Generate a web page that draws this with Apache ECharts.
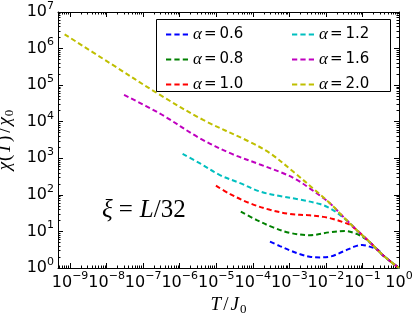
<!DOCTYPE html>
<html>
<head>
<meta charset="utf-8">
<script src="https://cdn.jsdelivr.net/npm/echarts@6/dist/echarts.min.js"></script>
<style>html,body{margin:0;padding:0;background:#fff}#c{width:416px;height:317px}</style>
</head>
<body>
<div id="c"></div>
<script>
// ---- data ----
var T_06   = [2.95e-4, 5.5e-4, 1.05e-3, 1.95e-3, 3.6e-3, 6.9e-3, 1.29e-2, 2.95e-2, 6.3e-2, 9.8e-2, 0.141, 0.27, 0.37, 1];
var CHI_06 = [5.25, 3.98, 3.02, 2.40, 2.04, 1.95, 2.04, 2.82, 3.89, 4.27, 3.98, 3.09, 2.2, 1];

var T_08   = [4.7e-5, 1.29e-4, 3.6e-4, 1.05e-3, 3.6e-3, 1.29e-2, 3.3e-2, 6.3e-2, 0.105, 0.162, 0.37, 1];
var CHI_08 = [34.7, 20.4, 12.9, 9.1, 7.9, 9.5, 10.2, 8.9, 6.9, 5.0, 2.2, 1];

var T_10   = [9.8e-6, 2.4e-5, 8.3e-5, 2.95e-4, 1.05e-3, 3.6e-3, 8.5e-3, 1.58e-2, 3.0e-2, 4.6e-2, 6.9e-2, 0.162, 0.37, 1];
var CHI_10 = [178, 105, 59, 39, 30, 27.5, 25, 21.9, 17.8, 15.1, 11, 5.0, 2.2, 1];

var T_12   = [1.2e-6, 3.6e-6, 1.26e-5, 4.5e-5, 1.58e-4, 5.5e-4, 1.95e-3, 6.9e-3, 1.29e-2, 2.45e-2, 4.6e-2, 6.9e-2, 0.162, 0.37, 1];
var CHI_12 = [1320, 724, 347, 209, 123, 93, 74, 56, 43, 28, 16.6, 11, 5.0, 2.2, 1];

var T_16   = [3.0e-8, 2.9e-7, 3.6e-6, 2.4e-5, 1.58e-4, 6.8e-4, 1.62e-3, 3.6e-3, 8.3e-3, 1.29e-2, 3.0e-2, 6.9e-2, 0.162, 0.37, 1];
var CHI_16 = [5.4e4, 1.66e4, 3.5e3, 1.38e3, 676, 389, 257, 151, 83, 59, 25, 11, 5.0, 2.2, 1];

var T_20   = [7.1e-10, 1.23e-8, 2.9e-7, 4.4e-6, 8.3e-5, 2.95e-4, 1.29e-3, 5.6e-3, 1.29e-2, 3.0e-2, 6.9e-2, 0.162, 0.37, 1];
var CHI_20 = [2.45e6, 4.0e5, 5.4e4, 1.12e4, 2.8e3, 1.38e3, 427, 123, 59, 25, 11, 5.0, 2.2, 1];

var SERIES_NAMES = ['α=0.6', 'α=0.8', 'α=1.0', 'α=1.2', 'α=1.6', 'α=2.0'];
var SERIES_T   = [T_06, T_08, T_10, T_12, T_16, T_20];
var SERIES_CHI = [CHI_06, CHI_08, CHI_10, CHI_12, CHI_16, CHI_20];

var X_MAJOR = [1e-9, 1e-8, 1e-7, 1e-6, 1e-5, 1e-4, 1e-3, 1e-2, 1e-1, 1];
var Y_MAJOR = [1, 1e1, 1e2, 1e3, 1e4, 1e5, 1e6, 1e7];
var X_MIN = Math.pow(10, -9.33), X_MAX = 1;
var Y_MIN = 1, Y_MAX = 1e7;

// ---- styling ----
var COLORS = ['#0000ff', '#008000', '#ff0000', '#00bfbf', '#bf00bf', '#bfbf00'];

function minorTicks(lo, hi) {
  var out = [];
  for (var k = -11; k <= 8; k++) {
    for (var m = 2; m <= 9; m++) {
      var v = m * Math.pow(10, k);
      if (v > lo && v < hi) out.push(v);
    }
  }
  return out;
}
var X_MINOR = minorTicks(X_MIN, X_MAX);
var Y_MINOR = minorTicks(Y_MIN, Y_MAX);

function expLabel(v) {
  var e = Math.round(Math.log10(v));
  var s = e < 0 ? '\u2212' + (-e) : String(e);
  return '{b|10}{s|' + s + '}';
}
var tickRich = {
  b: { fontSize: 16, fontFamily: 'DejaVu Sans', color: '#000' },
  s: { fontSize: 11, fontFamily: 'DejaVu Sans', color: '#000', padding: [0, 0, 12, 0] }
};
var BLACK = { color: '#000', width: 1 };

function majorX(pos, labels) {
  return {
    type: 'log', gridIndex: 0, position: pos, min: X_MIN, max: X_MAX,
    axisLine: { show: true, lineStyle: BLACK },
    axisTick: { show: true, inside: true, length: 5, lineStyle: BLACK, customValues: X_MAJOR },
    axisLabel: labels ? { show: true, customValues: X_MAJOR, formatter: expLabel, rich: tickRich, margin: 3,
                          showMinLabel: true, showMaxLabel: true, hideOverlap: false } : { show: false },
    splitLine: { show: false }, minorTick: { show: false }
  };
}
function minorX(pos) {
  return {
    type: 'log', gridIndex: 1, position: pos, min: X_MIN, max: X_MAX,
    axisLine: { show: false },
    axisTick: { show: true, inside: true, length: 2.5, lineStyle: BLACK, customValues: X_MINOR },
    axisLabel: { show: false }, splitLine: { show: false }
  };
}
function majorY(pos, labels) {
  return {
    type: 'log', gridIndex: 0, position: pos, min: Y_MIN, max: Y_MAX, logBase: 10,
    axisLine: { show: true, lineStyle: BLACK },
    axisTick: { show: true, inside: true, length: 5, lineStyle: BLACK, customValues: Y_MAJOR },
    axisLabel: labels ? { show: true, customValues: Y_MAJOR, formatter: expLabel, rich: tickRich, margin: 4,
                          showMinLabel: true, showMaxLabel: true, hideOverlap: false } : { show: false },
    splitLine: { show: false }, minorTick: { show: false }
  };
}
function minorY(pos) {
  return {
    type: 'log', gridIndex: 1, position: pos, min: Y_MIN, max: Y_MAX, logBase: 10,
    axisLine: { show: false },
    axisTick: { show: true, inside: true, length: 2.5, lineStyle: BLACK, customValues: Y_MINOR },
    axisLabel: { show: false }, splitLine: { show: false }
  };
}

var titleRich = {
  i: { fontFamily: 'Liberation Serif', fontStyle: 'italic', fontSize: 19, color: '#000' },
  r: { fontFamily: 'Liberation Serif', fontSize: 19, color: '#000' },
  sl: { fontFamily: 'Liberation Serif', fontSize: 19, color: '#000', padding: [0, 2, 0, 2] },
  p: { fontFamily: 'Liberation Serif', fontSize: 19, color: '#000', padding: [0, 1, 0, 1] },
  sub: { fontFamily: 'Liberation Serif', fontSize: 13, color: '#000', padding: [9, 0, 0, 1] }
};

var xb = majorX('bottom', true);
xb.name = '{i|T}{sl|/}{i|J}{sub|0}';
xb.nameLocation = 'middle';
xb.nameGap = 23;
xb.nameTextStyle = { rich: titleRich };

var yl = majorY('left', true);
yl.name = '{i|χ}{p|(}{i|T}{p|)}{sl|/}{i|χ}{sub|0}';
yl.nameLocation = 'middle';
yl.nameGap = 36;
yl.nameRotate = 90;
yl.nameTextStyle = { rich: titleRich };

var series = SERIES_NAMES.map(function (name, k) {
  var T = SERIES_T[k], C = SERIES_CHI[k];
  return {
    type: 'line', name: name, xAxisIndex: 0, yAxisIndex: 0,
    data: T.map(function (t, i) { return [t, C[i]]; }),
    symbol: 'none', smooth: 0.35,
    lineStyle: { color: COLORS[k], width: 2, type: [5, 3] },
    itemStyle: { color: COLORS[k] },
    z: 2 + k * 0.01
  };
});

var DASH_ICON = 'path://M0,0H5V2H0ZM8,0H13V2H8ZM16,0H21V2H16Z';
var legendRich = {
  a: { fontFamily: 'Liberation Serif', fontStyle: 'italic', fontSize: 17, color: '#000' },
  e: { fontFamily: 'DejaVu Sans', fontSize: 15, color: '#000', padding: [0, 3, 0, 2] },
  n: { fontFamily: 'DejaVu Sans', fontSize: 15, color: '#000' }
};
function legendFmt(name) {
  var p = name.split('=');
  return '{a|' + p[0] + '}{e|=}{n|' + p[1] + '}';
}
function makeLegend(names, left) {
  return {
    data: names.map(function (n) { return { name: n, icon: DASH_ICON }; }),
    orient: 'vertical', left: left, top: 26, itemGap: 8,
    itemWidth: 22, itemHeight: 14, itemTextGap: 16,
    formatter: legendFmt, textStyle: { rich: legendRich },
    selectedMode: false, padding: 0, z: 6
  };
}

var chart = echarts.init(document.getElementById('c'), null, { renderer: 'canvas' });
chart.setOption({
  animation: false,
  backgroundColor: '#fff',
  grid: [
    { left: 58, right: 17, top: 12, bottom: 49, containLabel: false, outerBoundsMode: 'none' },
    { left: 58, right: 17, top: 12, bottom: 49, containLabel: false, outerBoundsMode: 'none' }
  ],
  xAxis: [xb, majorX('top', false), minorX('bottom'), minorX('top')],
  yAxis: [yl, majorY('right', false), minorY('left'), minorY('right')],
  legend: [makeLegend(SERIES_NAMES.slice(0, 3), 166), makeLegend(SERIES_NAMES.slice(3), 292)],
  graphic: [
    { type: 'rect', z: 5, shape: { x: 156.5, y: 19.5, width: 234, height: 72 },
      style: { fill: '#fff', stroke: '#000', lineWidth: 1 } },
    { type: 'text', z: 5, left: 102, top: 198,
      style: { text: '{i|ξ}{eq|=}{i|L}{r|/32}', rich: {
        i: { fontFamily: 'Liberation Serif', fontStyle: 'italic', fontSize: 25, fill: '#000' },
        eq: { fontFamily: 'Liberation Serif', fontSize: 25, fill: '#000', padding: [0, 7, 0, 6] },
        r: { fontFamily: 'Liberation Serif', fontSize: 25, fill: '#000' }
      } } }
  ],
  series: series
});
</script>
</body>
</html>
